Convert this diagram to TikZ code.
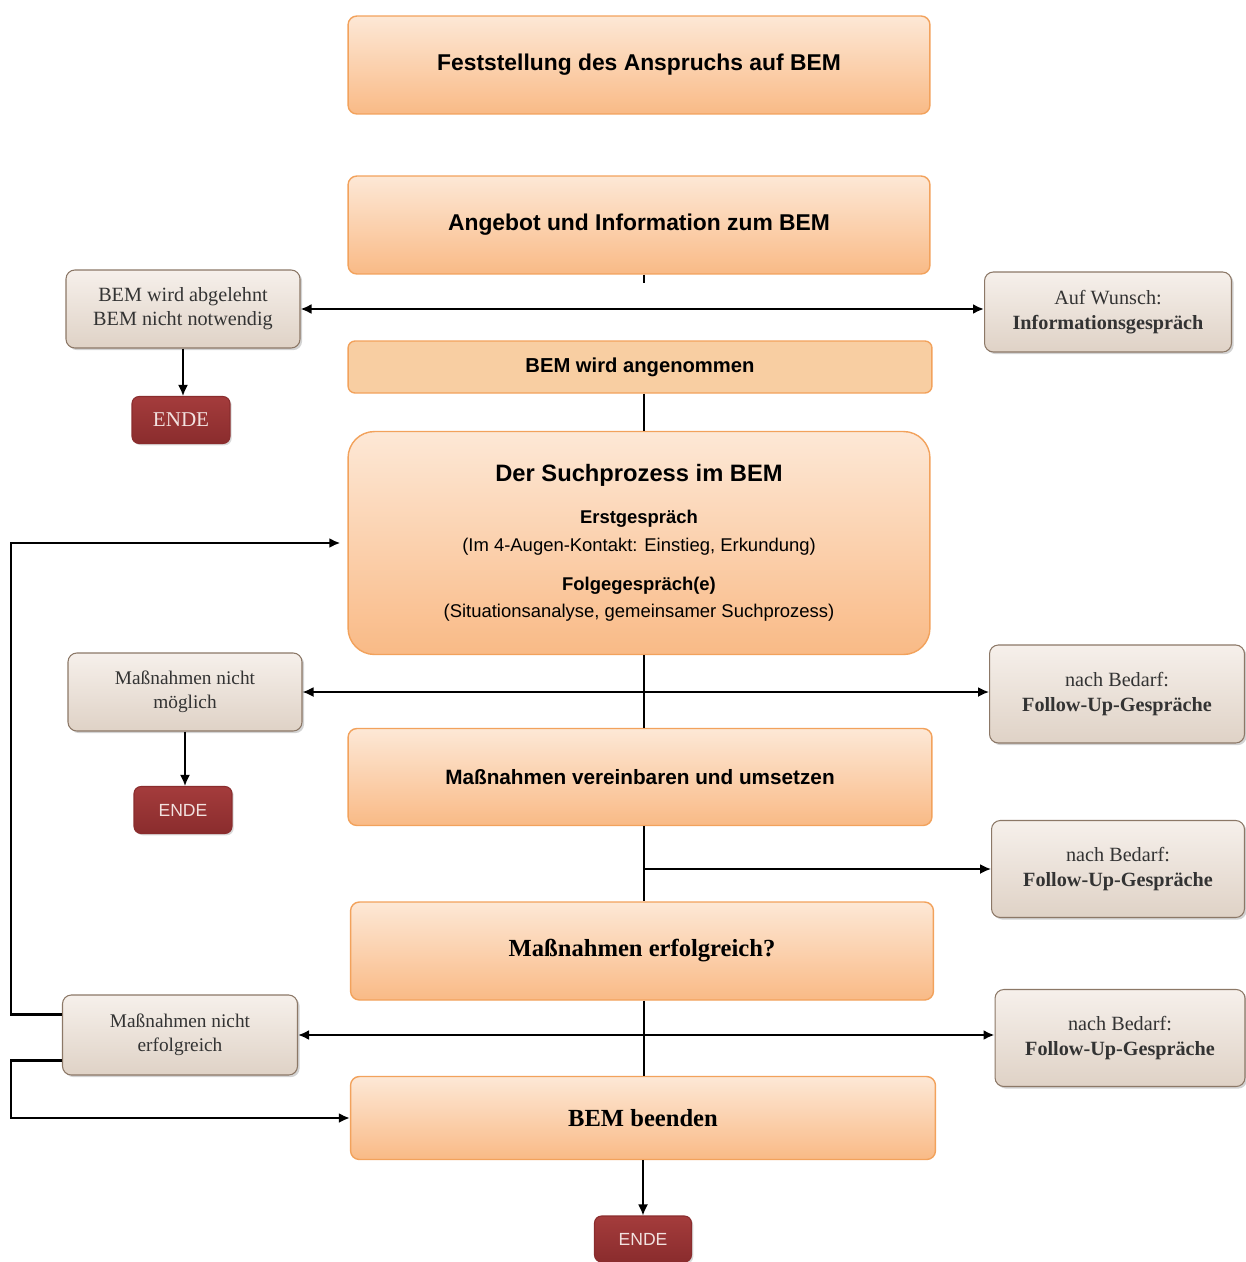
\documentclass[tikz,border=0pt]{standalone}
\usepackage{fontspec}
\setmainfont{Liberation Serif}
\setsansfont{Liberation Sans}
\usepackage{tikz}
\usetikzlibrary{arrows.meta,shadows}
\definecolor{orangetop}{HTML}{FDE8D6}
\definecolor{orangebottom}{HTML}{F9BA86}
\definecolor{orangeline}{HTML}{F2A25C}
\definecolor{orangeflat}{HTML}{F8CEA2}
\definecolor{greytop}{HTML}{F6F0EB}
\definecolor{greybottom}{HTML}{DFD2C6}
\definecolor{greyline}{HTML}{8C7867}
\definecolor{endered}{HTML}{A43C3C}
\definecolor{endedark}{HTML}{8A2C2D}
\definecolor{endetext}{HTML}{F2E2E0}
\tikzstyle{stage}=[rectangle, rounded corners=5pt, draw=orangeline, line width=0.8pt, top color=orangetop, bottom color=orangebottom, align=center, inner sep=0pt]
\tikzstyle{stageflat}=[rectangle, rounded corners=4pt, draw=orangeline, line width=0.8pt, fill=orangeflat, align=center, inner sep=0pt]
\tikzstyle{side}=[rectangle, rounded corners=5pt, draw=greyline, line width=0.6pt, top color=greytop, bottom color=greybottom, align=center, inner sep=0pt, text=black!80, drop shadow={shadow xshift=1.2pt, shadow yshift=-1.2pt, opacity=0.35}]
\tikzstyle{ende}=[rectangle, rounded corners=4pt, draw=endedark, line width=0.6pt, top color=endered, bottom color=endedark, text=endetext, inner sep=0pt, minimum width=1.96cm, minimum height=0.94cm, drop shadow={shadow xshift=1pt, shadow yshift=-1pt, opacity=0.3}]
\tikzstyle{arrow}=[draw=black, >={Latex[length=2.2mm, width=2mm]}]
\tikzstyle{strong}=[line width=1.6pt]
\tikzstyle{thin}=[line width=1pt]

\begin{document}
\begin{tikzpicture}[x=0.02cm, y=-0.02cm]
	\useasboundingbox (0,0) rectangle (1246,1262);
	\begin{scope}
		% main column
		\node (fest) at (639,65)[stage, minimum width=11.64cm, minimum height=1.96cm, font=\sffamily\bfseries\fontsize{13}{15}\selectfont] {Feststellung des Anspruchs auf BEM};
		\node (angebot) at (639,225)[stage, minimum width=11.64cm, minimum height=1.96cm, font=\sffamily\bfseries\fontsize{13}{15}\selectfont] {Angebot und Information zum BEM};
		\node (angenommen) at (640,367)[stageflat, minimum width=11.68cm, minimum height=1.04cm, font=\sffamily\bfseries\fontsize{11.5}{14}\selectfont] {BEM wird angenommen};
		\node (such) at (639,543)[stage, rounded corners=15pt, minimum width=11.64cm, minimum height=4.46cm, font=\sffamily\fontsize{10.5}{12.5}\selectfont] {
			{\bfseries\fontsize{13.5}{16}\selectfont Der Suchprozess im BEM}\\[11.5pt]
			{\bfseries Erstgespräch}\\[3pt]
			(Im 4-Augen-Kontakt: Einstieg, Erkundung)\\[10pt]
			{\bfseries Folgegespräch(e)}\\[3pt]
			(Situationsanalyse, gemeinsamer Suchprozess)
		};
		\node (vereinbaren) at (640,777)[stage, minimum width=11.68cm, minimum height=1.94cm, font=\sffamily\bfseries\fontsize{11.8}{14}\selectfont] {Maßnahmen vereinbaren und umsetzen};
		\node (erfolgreich) at (642,951)[stage, minimum width=11.66cm, minimum height=1.96cm, font=\bfseries\fontsize{14}{16}\selectfont] {Maßnahmen erfolgreich?};
		\node (beenden) at (643,1118)[stage, minimum width=11.70cm, minimum height=1.66cm, font=\bfseries\fontsize{14}{16}\selectfont] {BEM beenden};
		\coordinate (spine) at (644,0);
		% left side
		\node (abgelehnt) at (183,309)[side, minimum width=4.68cm, minimum height=1.56cm, font=\fontsize{11.5}{13.5}\selectfont] {BEM wird abgelehnt\\BEM nicht notwendig};
		\node (ende1) at (181,420)[ende, font=\fontsize{12}{14}\selectfont] {ENDE};
		\node (nmoeglich) at (185,692)[side, minimum width=4.68cm, minimum height=1.56cm, font=\fontsize{11}{13.5}\selectfont] {Maßnahmen nicht\\möglich};
		\node (ende2) at (183,810)[ende, font=\sffamily\fontsize{10}{12}\selectfont] {ENDE};
		\node (nerfolg) at (180,1035)[side, minimum width=4.70cm, minimum height=1.60cm, font=\fontsize{11}{13.5}\selectfont] {Maßnahmen nicht\\erfolgreich};
		\node (ende3) at (643,1239)[ende, minimum width=1.94cm, minimum height=0.92cm, font=\sffamily\fontsize{10}{12}\selectfont] {ENDE};
		% right side
		\node (wunsch) at (1108,312)[side, minimum width=4.94cm, minimum height=1.60cm, font=\fontsize{11.5}{14}\selectfont] {Auf Wunsch:\\\textbf{Informationsgespräch}};
		\node (follow1) at (1117,694)[side, minimum width=5.10cm, minimum height=1.96cm, font=\fontsize{11.5}{14}\selectfont] {nach Bedarf:\\\textbf{Follow-Up-Gespräche}};
		\node (follow2) at (1118,869)[side, minimum width=5.06cm, minimum height=1.94cm, font=\fontsize{11.5}{14}\selectfont] {nach Bedarf:\\\textbf{Follow-Up-Gespräche}};
		\node (follow3) at (1120,1038)[side, minimum width=5.00cm, minimum height=1.94cm, font=\fontsize{11.5}{14}\selectfont] {nach Bedarf:\\\textbf{Follow-Up-Gespräche}};
	\end{scope}
	\begin{scope}
		% vertical line of the main column
		\draw [arrow, thin] (angebot.south -| spine) -- +(0,8);
		\draw [arrow, thin] (angenommen.south -| spine) -- (such.north -| spine);
		\draw [arrow, thin] (such.south -| spine) -- (vereinbaren.north -| spine);
		\draw [arrow, thin] (vereinbaren.south -| spine) -- (erfolgreich.north -| spine);
		\draw [arrow, thin] (erfolgreich.south -| spine) -- (beenden.north -| spine);
		\draw [arrow, thin, ->] (beenden.south) -- (ende3.north);
		% to both sides
		\draw [arrow, strong, <->] (abgelehnt.east) -- (abgelehnt.east -| wunsch.west);
		\draw [arrow, thin, <->] (nmoeglich.east) -- (nmoeglich.east -| follow1.west);
		\draw [arrow, thin, ->] (spine |- follow2.west) -- (follow2.west);
		\draw [arrow, strong, <->] (nerfolg.east) -- (nerfolg.east -| follow3.west);
		% to ENDE
		\draw [arrow, thin, ->] (abgelehnt.south) -- (abgelehnt.south |- ende1.north);
		\draw [arrow, thin, ->] (nmoeglich.south) -- (nmoeglich.south |- ende2.north);
		% back to the search
		\draw [arrow, strong, ->, shorten >=4pt] (nerfolg.170) -- ++(-51,0) |- (such.west);
		\draw [arrow, strong, ->] (nerfolg.192) -- ++(-51,0) |- (beenden.west);
	\end{scope}
\end{tikzpicture}
\end{document}
